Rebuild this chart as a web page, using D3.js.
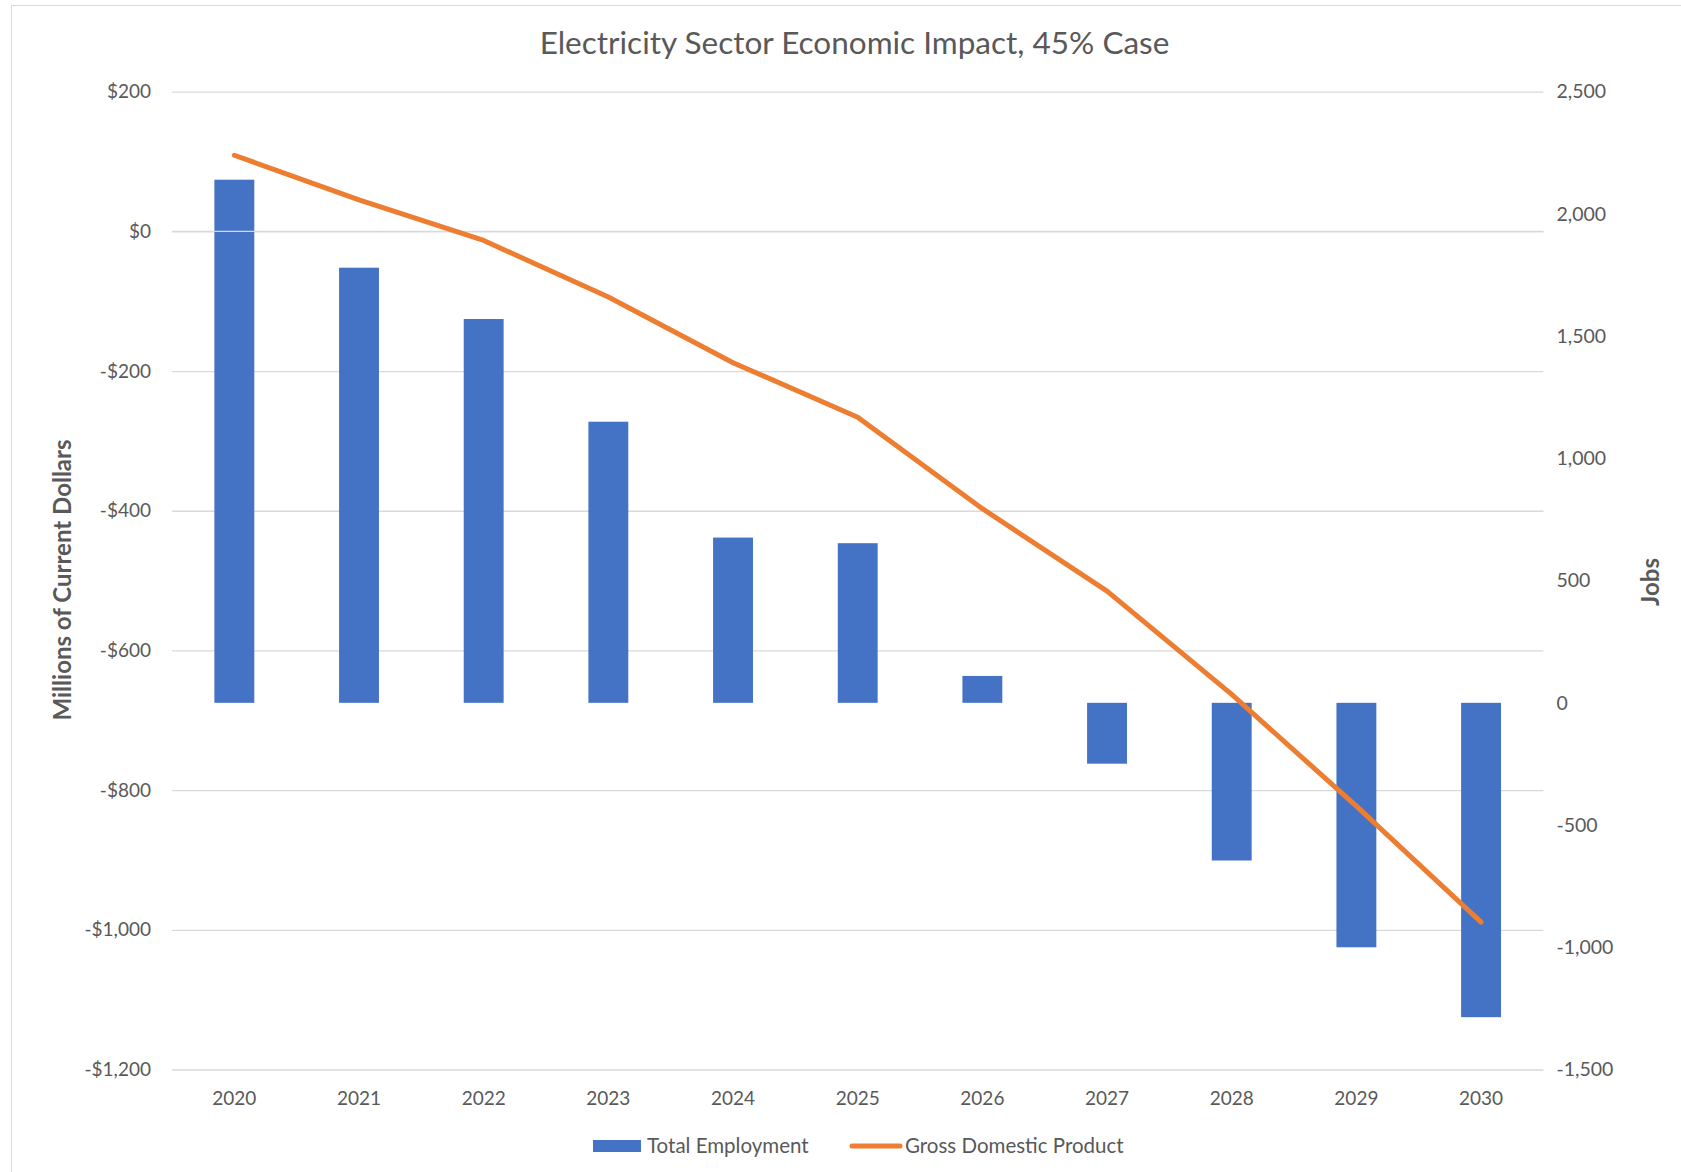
<!DOCTYPE html>
<html>
<head>
<meta charset="utf-8">
<script src="https://cdn.jsdelivr.net/npm/d3@7"></script>
<style>
  html, body { margin: 0; padding: 0; background: #fff; }
  svg { display: block; }
  text { font-family: Lato, "Open Sans", sans-serif; fill: #595959; }
</style>
</head>
<body>
<svg id="chart" width="1681" height="1172"></svg>
<script>
// Electricity sector economic impact, 45% case
const years = ["2020", "2021", "2022", "2023", "2024", "2025", "2026", "2027", "2028", "2029", "2030"];
// Total Employment (jobs, right axis)
const employment = [2140, 1780, 1570, 1150, 676, 653, 110, -249, -645, -1000, -1286];
// Gross Domestic Product (millions of current dollars, left axis)
const gdp = [109, 45, -13, -94, -188, -266, -397, -515, -663, -823, -989];
const dollarTicks = [200, 0, -200, -400, -600, -800, -1000, -1200];
const jobTicks = [2500, 2000, 1500, 1000, 500, 0, -500, -1000, -1500];

const title = "Electricity Sector Economic Impact, 45% Case";
const seriesNames = ["Total Employment", "Gross Domestic Product"];

const W = 1681, H = 1172;
const plot = { left: 172, right: 1543.4, top: 91.7, bottom: 1069.5 };
const blue = "#4472C4", orange = "#ED7D31", grid = "#D9D9D9";
const font = "Lato, 'Open Sans', sans-serif";

const svg = d3.select("#chart");

// chart frame
svg.append("rect")
  .attr("x", 11.5).attr("y", 5.5)
  .attr("width", W).attr("height", H)
  .attr("fill", "#fff").attr("stroke", grid).attr("stroke-width", 1);

const x = d3.scaleBand().domain(years)
  .range([plot.left, plot.right])
  .paddingInner(0.68).paddingOuter(0.34);
const yL = d3.scaleLinear().domain([-1200, 200]).range([plot.bottom, plot.top]);
const yR = d3.scaleLinear().domain([-1500, 2500]).range([plot.bottom, plot.top]);

const fmtDollar = v => (v < 0 ? "-$" : "$") + d3.format(",")(Math.abs(v));
const fmtJobs = v => (v < 0 ? "-" : "") + d3.format(",")(Math.abs(v));

// gridlines + left axis
const left = svg.append("g")
  .attr("transform", `translate(${plot.left},0)`)
  .call(d3.axisLeft(yL).tickValues(dollarTicks)
    .tickSize(-(plot.right - plot.left)).tickPadding(21).tickFormat(fmtDollar));
left.select(".domain").remove();
left.selectAll(".tick line").attr("stroke", grid).attr("stroke-width", 1.3);
left.selectAll(".tick text").attr("font-size", 19).attr("fill", "#595959")
  .style("font-family", font);

// right axis
const right = svg.append("g")
  .attr("transform", `translate(${plot.right},0)`)
  .call(d3.axisRight(yR).tickValues(jobTicks).tickSize(0).tickPadding(13).tickFormat(fmtJobs));
right.select(".domain").remove();
right.selectAll(".tick text").attr("font-size", 19.5).attr("fill", "#595959")
  .style("font-family", font);

// employment bars
svg.append("g").selectAll("rect")
  .data(years.map((y, i) => ({ year: y, v: employment[i] })))
  .join("rect")
  .attr("x", d => x(d.year))
  .attr("width", x.bandwidth())
  .attr("y", d => yR(Math.max(0, d.v)))
  .attr("height", d => Math.abs(yR(d.v) - yR(0)))
  .attr("fill", blue);

// category axis line at $0
svg.append("line")
  .attr("x1", plot.left).attr("x2", plot.right)
  .attr("y1", yL(0)).attr("y2", yL(0))
  .attr("stroke", grid).attr("stroke-width", 1.3);

// category labels
const bottom = svg.append("g")
  .attr("transform", `translate(0,${plot.bottom})`)
  .call(d3.axisBottom(x).tickSize(0).tickPadding(22));
bottom.select(".domain").remove();
bottom.selectAll(".tick text").attr("font-size", 19).attr("fill", "#595959")
  .style("font-family", font);

// GDP line
const line = d3.line()
  .x((d, i) => x(years[i]) + x.bandwidth() / 2)
  .y(d => yL(d));
svg.append("path")
  .datum(gdp)
  .attr("d", line)
  .attr("fill", "none")
  .attr("stroke", orange)
  .attr("stroke-width", 5)
  .attr("stroke-linecap", "round")
  .attr("stroke-linejoin", "round");

// title
svg.append("text")
  .attr("x", 854.5).attr("y", 54)
  .attr("text-anchor", "middle")
  .attr("font-size", 31.5)
  .text(title);

// axis titles
svg.append("text")
  .attr("transform", `translate(71,580) rotate(-90)`)
  .attr("text-anchor", "middle")
  .attr("font-size", 24).attr("font-weight", "bold")
  .text("Millions of Current Dollars");
svg.append("text")
  .attr("transform", `translate(1659,582) rotate(-90)`)
  .attr("text-anchor", "middle")
  .attr("font-size", 24).attr("font-weight", "bold")
  .text("Jobs");

// legend
const lg = svg.append("g");
lg.append("rect").attr("x", 593).attr("y", 1140).attr("width", 48).attr("height", 12).attr("fill", blue);
lg.append("text").attr("x", 647).attr("y", 1153).attr("font-size", 20.5).text(seriesNames[0]);
lg.append("line").attr("x1", 852).attr("x2", 900).attr("y1", 1146).attr("y2", 1146)
  .attr("stroke", orange).attr("stroke-width", 5).attr("stroke-linecap", "round");
lg.append("text").attr("x", 905).attr("y", 1153).attr("font-size", 20.5).text(seriesNames[1]);
</script>
</body>
</html>
